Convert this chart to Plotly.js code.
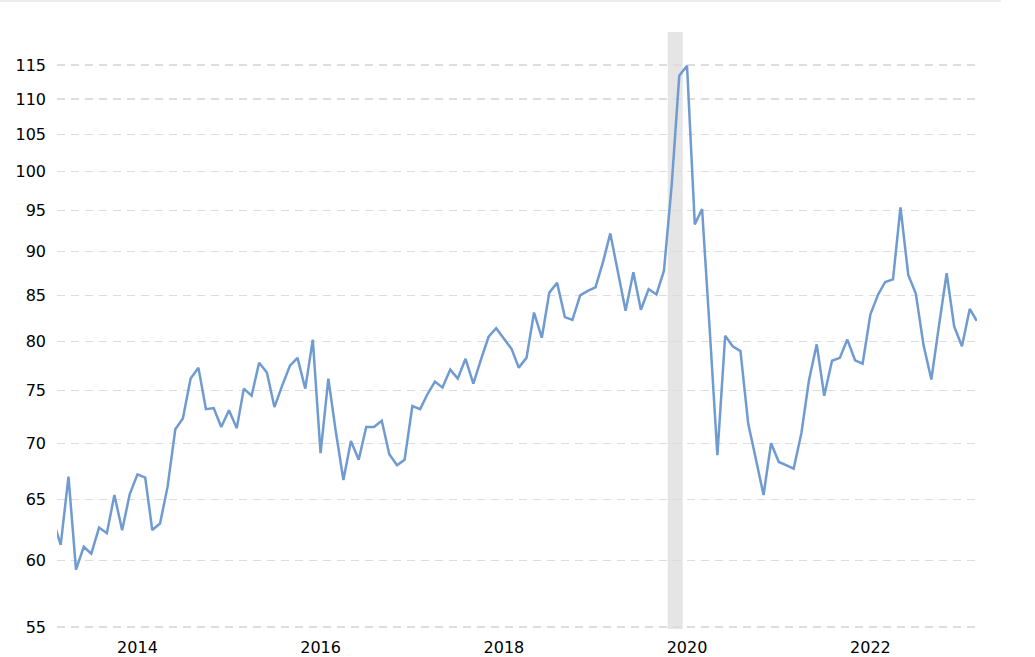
<!DOCTYPE html>
<html>
<head>
<meta charset="utf-8">
<script src="https://cdn.plot.ly/plotly-3.0.1.min.js"></script>
<style>
html,body{margin:0;padding:0;background:#fff;}
#chart{width:1035px;height:657px;}
</style>
</head>
<body>
<div id="chart"></div>
<script>
// Monthly series, Feb 2013 .. Mar 2023
var startYear = 2013, startMonth = 2;
var values = [
  63.1,
  61.25, 67.0, 59.3, 61.1, 60.55, 62.66, 62.2, 65.4, 62.44, 65.45,
  67.2, 66.9, 62.46, 63.0, 66.1, 71.3, 72.3, 76.2, 77.3, 73.2, 73.3, 71.5,
  73.1, 71.4, 75.2, 74.5, 77.8, 76.8, 73.4, 75.5, 77.5, 78.3, 75.2, 80.2,
  69.1, 76.2, 71.2, 66.7, 70.2, 68.5, 71.5, 71.5, 72.1, 69.0, 68.0, 68.5,
  73.5, 73.2, 74.6, 75.9, 75.3, 77.1, 76.2, 78.2, 75.7, 78.1, 80.5, 81.4,
  80.3, 79.2, 77.3, 78.3, 83.1, 80.4, 85.3, 86.4, 82.6, 82.3, 85.0, 85.5,
  85.9, 88.9, 92.2, 87.4, 83.3, 87.6, 83.4, 85.7, 85.1, 87.8, 98.3, 113.4,
  114.9, 93.3, 95.2, 81.0, 68.9, 80.6, 79.5, 79.0, 71.8, 68.6, 65.4, 70.0,
  68.3, 68.0, 67.7, 70.95, 76.0, 79.7, 74.5, 78.0, 78.3, 80.2, 78.05, 77.7,
  82.9, 85.1, 86.5, 86.8, 95.4, 87.3, 85.2, 79.6, 76.1, 81.6, 87.5, 81.6,
  79.5, 83.5, 82.2
];
var dates = [];
for (var k = 0; k < values.length; k++) {
  var m = startMonth - 1 + k;
  var y = startYear + Math.floor(m / 12);
  var mm = (m % 12) + 1;
  dates.push(y + '-' + (mm < 10 ? '0' + mm : mm) + '-01');
}
var yTicks = [55, 60, 65, 70, 75, 80, 85, 90, 95, 100, 105, 110, 115];
var recession = ['2019-10-16', '2019-12-15'];
var xRange = ['2013-02-14 06:00', '2023-03-02'];

var trace = {
  x: dates, y: values, type: 'scatter', mode: 'lines',
  line: {color: '#6f9bd1', width: 2.5},
  hoverinfo: 'x+y'
};

var layout = {
  width: 1035, height: 657,
  margin: {l: 57, r: 58, t: 32, b: 28},
  paper_bgcolor: '#ffffff', plot_bgcolor: '#ffffff',
  font: {family: '"DejaVu Sans", Verdana, sans-serif', size: 16, color: '#000'},
  showlegend: false,
  xaxis: {
    type: 'date', range: xRange,
    tickmode: 'linear', tick0: '2014-01-01', dtick: 'M24', tickformat: '%Y',
    showgrid: false, zeroline: false, showline: false, ticks: '',
    ticklabelstandoff: 7,
    tickfont: {size: 16, color: '#000'}
  },
  yaxis: {
    type: 'log', range: [Math.log10(54.85), Math.log10(120.1)],
    tickmode: 'array', tickvals: yTicks, ticktext: yTicks.map(String),
    showgrid: true, gridcolor: '#dddddd', gridwidth: 1.3, griddash: '8px,6px',
    zeroline: false, showline: false, ticks: '',
    ticklabelstandoff: 10,
    tickfont: {size: 16, color: '#000'}
  },
  shapes: [
    {type: 'rect', xref: 'x', yref: 'paper', x0: recession[0], x1: recession[1],
     y0: 0, y1: 1, fillcolor: '#e5e5e5', line: {width: 0}, layer: 'below'},
    {type: 'line', xref: 'paper', yref: 'paper', x0: -0.062, x1: 1.026,
     y0: 1.052, y1: 1.052, line: {color: '#d8d8d8', width: 1}}
  ]
};

Plotly.newPlot('chart', [trace], layout, {displayModeBar: false, staticPlot: true});
</script>
</body>
</html>
